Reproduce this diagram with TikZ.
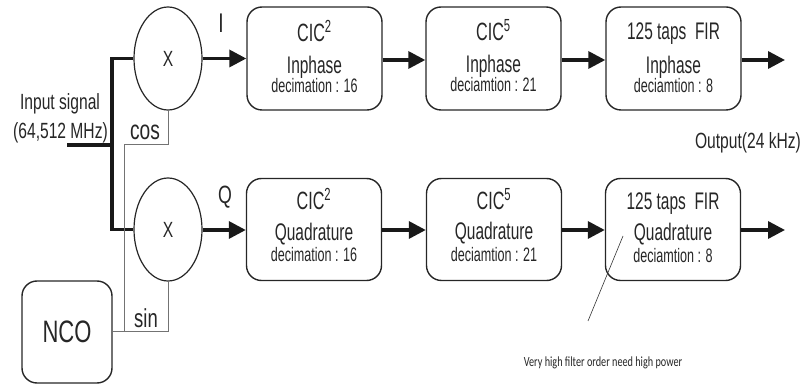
\documentclass[tikz,border=0pt]{standalone}
\usepackage{fontspec}
\setmainfont[FakeStretch=0.71]{Liberation Sans}
\newfontfamily\boxfont[FakeStretch=0.645]{Liberation Sans}
\newfontfamily\notefont[FakeStretch=0.73]{Carlito}
\usetikzlibrary{shapes.geometric,arrows.meta}
\newcommand\fs[1]{\fontsize{#1}{#1}\selectfont}
\begin{document}
\begin{tikzpicture}[x=1pt,y=-1pt,
 blk/.style={draw=black!85, line width=1.4pt, rounded corners=15pt, minimum width=135pt, minimum height=102pt, inner sep=0},
 mix/.style={ellipse, draw=black!85, line width=1.2pt, minimum width=68pt, minimum height=103pt, inner sep=0},
 sig/.style={line width=3.4pt, draw=black!90},
 arr/.style={sig, -{Triangle[length=17pt,width=17pt]}},
 lo/.style={line width=1pt, draw=black!55},
 txt/.style={inner sep=0, anchor=base, text=black!85},
 big/.style={txt, font=\boxfont\fs{24}},
 cic/.style={txt, font=\boxfont\fs{25}},
 sml/.style={txt, font=\boxfont\fs{19.5}},
]
\useasboundingbox (0,0) rectangle (804,387);
% mixers
\node[mix] (m1) at (168,58.5) {};
\node[inner sep=0, text=black!85, font=\fs{22}] (m1x) at (m1.center) {X};
\node[mix] (m2) at (168,229.5) {};
\node[inner sep=0, text=black!85, font=\fs{22}] (m2x) at (m2.center) {X};
% NCO
\node[blk, minimum width=90pt, minimum height=102pt] (nco) at (67,332) {};
\node[inner sep=0, text=black!85, font=\fs{31}] (ncot) at (nco.center) {NCO};
% top row
\node[blk, minimum height=103pt] (b1) at (314.5,58.5) {};
\node[blk, minimum height=103pt] (b2) at (493.5,58.5) {};
\node[blk, minimum height=103pt] (b3) at (673.5,58.5) {};
\node[cic] (b1a) at (314.5,42) {CIC\textsuperscript{2}};
\node[big] (b1b) at (314.5,74) {Inphase};
\node[sml] (b1c) at (314.5,93) {decimation : 16};
\node[cic] (b2a) at (493.5,41) {CIC\textsuperscript{5}};
\node[big] (b2b) at (493.5,73) {Inphase};
\node[sml] (b2c) at (493.5,92) {deciamtion : 21};
\node[big] (b3a) at (673.5,40) {125 taps\ \ FIR};
\node[big] (b3b) at (673.5,74) {Inphase};
\node[sml] (b3c) at (673.5,93) {deciamtion : 8};
% bottom row
\node[blk] (c1) at (314,229.5) {};
\node[blk] (c2) at (494,229.5) {};
\node[blk] (c3) at (673,229.5) {};
\node[cic] (c1a) at (314,210) {CIC\textsuperscript{2}};
\node[big] (c1b) at (314,241) {Quadrature};
\node[sml] (c1c) at (314,262) {decimation : 16};
\node[cic] (c2a) at (494,210) {CIC\textsuperscript{5}};
\node[big] (c2b) at (494,240) {Quadrature};
\node[sml] (c2c) at (494,262) {deciamtion : 21};
\node[big] (c3a) at (673,210) {125 taps\ \ FIR};
\node[big] (c3b) at (673,241) {Quadrature};
\node[sml] (c3c) at (673,263) {deciamtion : 8};
% labels
\node[txt, font=\fs{22}] (inl1) at (60,110) {Input signal};
\node[txt, font=\fs{22}] (inl2) at (60.5,139) {(64,512 MHz)};
\node[txt, font=\fs{27}] (cosl) at (145,140) {cos};
\node[txt, font=\fs{26}] (sinl) at (146,328) {sin};
\node[txt, font=\fs{27}] (il) at (221,33) {I};
\node[txt, font=\fs{25}] (ql) at (225,204) {Q};
\node[txt, font=\fs{22}] (outl) at (748,149) {Output(24 kHz)};
\node[txt, font=\notefont\fs{14}] (note) at (603,367) {Very high filter order need high power};
% coordinates
\coordinate (in) at (67,145);
\coordinate (j) at (112,145);
\coordinate (t) at (124,332);
\coordinate (k) at (168,145);
\coordinate (o1) at (785,60);
\coordinate (o2) at (785,230);
\coordinate (p1) at (623,236);
\coordinate (p2) at (588,321);
% signal lines
\draw[sig] (in) -- (j);
\draw[sig] (m1.west) -| (j) |- (m2.west);
\draw[arr] (m1.east) -- (m1.east -| b1.west);
\draw[arr] (b1.east |- o1) -- (b2.west |- o1);
\draw[arr] (b2.east |- o1) -- (b3.west |- o1);
\draw[arr] (b3.east |- o1) -- (o1);
\draw[arr] (m2.east |- o2) -- (c1.west |- o2);
\draw[arr] (c1.east |- o2) -- (c2.west |- o2);
\draw[arr] (c2.east |- o2) -- (c3.west |- o2);
\draw[arr] (c3.east |- o2) -- (o2);
% LO lines
\draw[lo] (nco.east) -| (m2.south);
\draw[lo] (t) |- (k) -- (m1.south);
% pointer
\draw[line width=0.6pt, black!80] (p1) -- (p2);
\end{tikzpicture}
\end{document}
